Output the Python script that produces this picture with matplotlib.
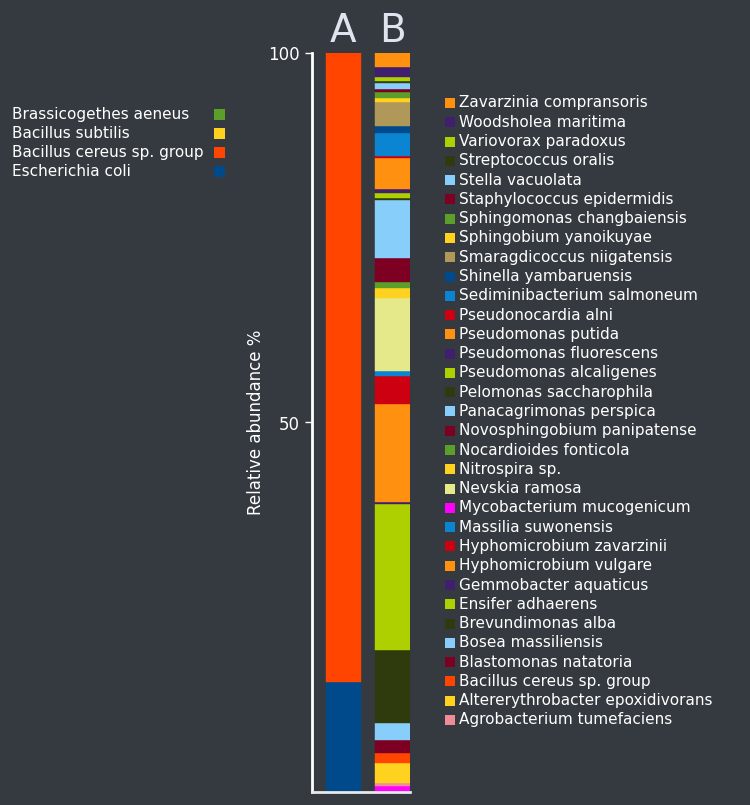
import matplotlib
matplotlib.use("Agg")
import matplotlib.pyplot as plt
from matplotlib.patches import Rectangle

# ---------------- data ----------------
samples = ["A", "B"]

# Sample A (bottom -> top)
a_species = ["Escherichia coli", "Bacillus cereus sp. group", "Bacillus subtilis", "Brassicogethes aeneus"]
a_values = [14.9, 85.1, 0.0, 0.0]
a_colors = ["#004a8b", "#ff4500", "#ffd21f", "#5b9f2a"]

# Sample B (bottom -> top)
b_species = [
    "Mycobacterium mucogenicum", "Agrobacterium tumefaciens", "Altererythrobacter epoxidivorans",
    "Bacillus cereus sp. group", "Blastomonas natatoria", "Bosea massiliensis", "Brevundimonas alba",
    "Ensifer adhaerens", "Gemmobacter aquaticus", "Hyphomicrobium vulgare", "Hyphomicrobium zavarzinii",
    "Massilia suwonensis", "Nevskia ramosa", "Nitrospira sp.", "Nocardioides fonticola",
    "Novosphingobium panipatense", "Panacagrimonas perspica", "Pelomonas saccharophila",
    "Pseudomonas alcaligenes", "Pseudomonas fluorescens", "Pseudomonas putida", "Pseudonocardia alni",
    "Sediminibacterium salmoneum", "Shinella yambaruensis", "Smaragdicoccus niigatensis",
    "Sphingobium yanoikuyae", "Sphingomonas changbaiensis", "Staphylococcus epidermidis",
    "Stella vacuolata", "Streptococcus oralis", "Variovorax paradoxus", "Woodsholea maritima",
    "Zavarzinia compransoris",
]
b_values = [
    0.77, 0.5, 2.65,
    1.35, 1.8, 2.25, 9.85,
    19.8, 0.3, 13.3, 3.75,
    0.68, 9.8, 1.35, 0.9,
    3.15, 7.9, 0.3,
    0.68, 0.5, 4.2, 0.27,
    3.15, 0.9, 3.25,
    0.6, 0.77, 0.45,
    0.8, 0.3, 0.45, 1.4,
    1.85,
]
b_colors = [
    "#ff00ff", "#f08c96", "#ffd21f",
    "#ff4500", "#7d0022", "#87cefa", "#2f3b0c",
    "#afd000", "#40206e", "#ff9010", "#cc0011",
    "#0b85d2", "#e5e98a", "#ffd21f", "#5b9f2a",
    "#7d0022", "#87cefa", "#2f3b0c",
    "#afd000", "#40206e", "#ff9010", "#cc0011",
    "#0b85d2", "#004a8b", "#b09858",
    "#ffd21f", "#5b9f2a", "#7d0022",
    "#87cefa", "#2f3b0c", "#afd000", "#40206e",
    "#ff9010",
]

# legends
left_legend_labels = ["Brassicogethes aeneus", "Bacillus subtilis", "Bacillus cereus sp. group", "Escherichia coli"]
left_legend_colors = ["#5b9f2a", "#ffd21f", "#ff4500", "#004a8b"]
# right legend: reverse alphabetical order
_color_of = dict(zip(b_species, b_colors))
right_legend_labels = sorted(b_species, reverse=True)
right_legend_colors = [_color_of[s] for s in right_legend_labels]

y_ticks = [50, 100]
y_label = "Relative abundance %"

# ---------------- style ----------------
BG = "#353a40"
FG = "#ffffff"
W, H = 750, 805

fig = plt.figure(figsize=(W / 100, H / 100), dpi=100, facecolor=BG)
ax = fig.add_axes([312 / W, 1 - 792 / H, 98 / W, (792 - 53) / H], facecolor=BG)

bar_w = 0.717
for xi, (vals, cols) in enumerate([(a_values, a_colors), (b_values, b_colors)]):
    bottom = 0.0
    for v, c in zip(vals, cols):
        if v > 0:
            ax.bar(xi, v, bottom=bottom, width=bar_w, color=c, edgecolor=c, linewidth=0.3)
        bottom += v

ax.set_xlim(-0.645, 1.363)
ax.set_ylim(0, 100)

for s in ["top", "right"]:
    ax.spines[s].set_visible(False)
ax.spines["left"].set_color(FG)
ax.spines["left"].set_linewidth(2)
ax.spines["bottom"].set_color("#e8e8e8")
ax.spines["bottom"].set_linewidth(2)

ax.set_yticks(y_ticks)
ax.set_yticklabels([str(t) for t in y_ticks], fontsize=12, color=FG)
ax.tick_params(axis="y", colors=FG, length=5, width=1, pad=4)

ax.set_xticks([0, 1])
ax.set_xticklabels(samples, fontsize=28, color="#e0e4ee")
ax.xaxis.set_ticks_position("top")
ax.tick_params(axis="x", length=0, pad=2)

ax.set_ylabel(y_label, fontsize=12, color=FG, labelpad=2)

# left legend
lx_text, lx_box = 12, 214
for i, (lab, col) in enumerate(zip(left_legend_labels, left_legend_colors)):
    yc = 115 + i * 18.7
    fig.text(lx_text / W, 1 - yc / H, lab, fontsize=11, color=FG, va="center", ha="left")
    fig.patches.append(Rectangle((lx_box / W, 1 - (yc + 5.5) / H), 11 / W, 11 / H,
                                 transform=fig.transFigure, facecolor=col, edgecolor="none"))

# right legend
rx_box, rx_text = 445, 459
for i, (lab, col) in enumerate(zip(right_legend_labels, right_legend_colors)):
    yc = 103 + i * 19.28
    fig.patches.append(Rectangle((rx_box / W, 1 - (yc + 5) / H), 10 / W, 10 / H,
                                 transform=fig.transFigure, facecolor=col, edgecolor="none"))
    fig.text(rx_text / W, 1 - yc / H, lab, fontsize=11, color=FG, va="center", ha="left")

fig.savefig("out.png", dpi=100, facecolor=BG)
